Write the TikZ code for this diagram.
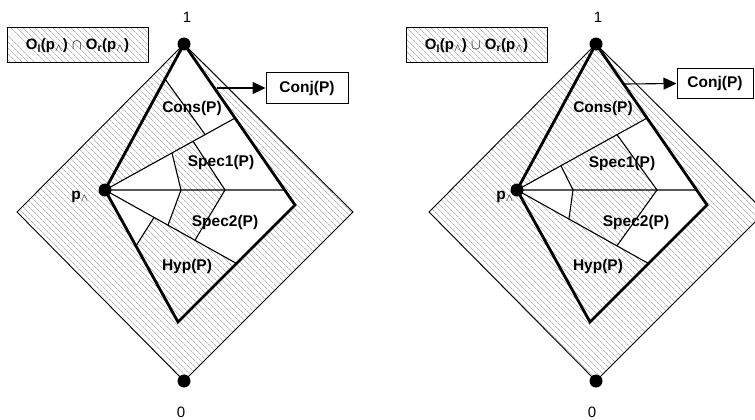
\documentclass[tikz,border=0pt]{standalone}
\usepackage{fontspec}
\setmainfont{Liberation Sans}
\usetikzlibrary{arrows.meta, positioning, calc, patterns.meta}

\begin{document}
\begin{tikzpicture}[x=1pt, y=-1pt,
  hatch/.style={pattern={Lines[angle=-45, distance=4pt, line width=0.5pt]}, pattern color=black!42},
  region/.style={draw, line width=0.9pt},
  bound/.style={draw, line width=2.8pt, line join=miter},
  cut/.style={line width=1.1pt},
  dot/.style={circle, fill, inner sep=0pt, minimum size=13pt},
  lbl/.style={font=\fontsize{15.5}{18}\selectfont\bfseries, inner sep=0pt},
  val/.style={font=\fontsize{15}{17}\selectfont, inner sep=0pt},
  conjbox/.style={draw, line width=1pt, minimum width=82pt, minimum height=30pt,
    font=\fontsize{15.5}{18}\selectfont\bfseries},
  legend/.style={draw, line width=1pt, hatch, minimum width=141pt, minimum height=35pt,
    font=\fontsize{15}{17}\selectfont\bfseries},
  arrow/.style={-{Triangle[length=13pt, width=12pt]}, line width=1.1pt}
]
\useasboundingbox (0,0) rectangle (755,420);

% left figure: intersection
\coordinate (top-a)  at (184,44);
\coordinate (lft-a)  at (17,212);
\coordinate (bot-a)  at (184,381);
\coordinate (rgt-a)  at (353,212);
\coordinate (pw-a)   at (105,190);
\coordinate (hyp-a)  at (178,322);
\coordinate (knee-a) at (295,205);
\coordinate (up-a)   at ($(top-a)!0.46!(knee-a)$);
\coordinate (mid-a)  at ($(top-a)!0.907!(knee-a)$);
\coordinate (low-a)  at ($(knee-a)!0.5!(hyp-a)$);
\coordinate (sa-a)   at ($(top-a)!0.24!(pw-a)$);
\coordinate (sb-a)   at ($(pw-a)!0.77!(up-a)$);
\coordinate (ca-a)   at ($(pw-a)!0.515!(up-a)$);
\coordinate (cb-a)   at ($(pw-a)!0.677!(up-a)$);
\coordinate (ma-a)   at (181,190);
\coordinate (mb-a)   at (225,190);
\coordinate (da-a)   at ($(pw-a)!0.479!(low-a)$);
\coordinate (db-a)   at ($(pw-a)!0.684!(low-a)$);
\coordinate (ea-a)   at ($(pw-a)!0.373!(low-a)$);
\coordinate (eb-a)   at ($(pw-a)!0.424!(hyp-a)$);

\fill[hatch] (top-a) -- (rgt-a) -- (bot-a) -- (lft-a) -- cycle;
\fill[white] (top-a) -- (sa-a) -- (sb-a) -- (up-a) -- cycle;
\fill[white] (pw-a) -- (ca-a) -- (ma-a) -- cycle;
\fill[white] (pw-a) -- (ma-a) -- (da-a) -- cycle;
\fill[white] (cb-a) -- (up-a) -- (mid-a) -- (mb-a) -- cycle;
\fill[white] (mb-a) -- (mid-a) -- (knee-a) -- (low-a) -- (db-a) -- cycle;
\fill[white] (pw-a) -- (ea-a) -- (eb-a) -- cycle;

\draw[cut] (pw-a) -- (up-a);
\draw[cut] (pw-a) -- (mid-a);
\draw[cut] (pw-a) -- (low-a);
\draw[cut] (sa-a) -- (sb-a);
\draw[cut] (ca-a) -- (ma-a) -- (da-a);
\draw[cut] (cb-a) -- (mb-a) -- (db-a);
\draw[cut] (ea-a) -- (eb-a);
\draw[region] (top-a) -- (rgt-a) -- (bot-a) -- (lft-a) -- cycle;
\draw[bound] (top-a) -- (pw-a) -- (hyp-a) -- (knee-a) -- cycle;

\node[dot] (dtop-a) at (top-a) {};
\node[dot] (dpw-a)  at (pw-a) {};
\node[dot] (dbot-a) at (bot-a) {};
\node[val] (one-a)  at (187,17) {1};
\node[val] (zero-a) at (181,412) {0};
\node[lbl] (plbl-a) at (80,197) {p\textsubscript{$\wedge$}};
\node[lbl] (cons-a) at (192,108) {Cons(P)};
\node[lbl] (spa-a)  at (221,162) {Spec1(P)};
\node[lbl] (spb-a)  at (225,222) {Spec2(P)};
\node[lbl] (hlbl-a) at (187,266) {Hyp(P)};

\node[legend] (leg-a) at (77.5,45.5) {O\textsubscript{l}(p\textsubscript{$\wedge$}) $\cap$ O\textsubscript{r}(p\textsubscript{$\wedge$})};
\node[conjbox] (conj-a) at (307,88) {Conj(P)};
\coordinate (js-a) at (217,88);
\draw[arrow] (js-a) -- (conj-a.west);

% right figure: union
\coordinate (top-b)  at (596,44);
\coordinate (lft-b)  at (429,212);
\coordinate (bot-b)  at (596,381);
\coordinate (rgt-b)  at (765,212);
\coordinate (pw-b)   at (517,190);
\coordinate (hyp-b)  at (590,322);
\coordinate (knee-b) at (707,205);
\coordinate (up-b)   at ($(top-b)!0.46!(knee-b)$);
\coordinate (mid-b)  at ($(top-b)!0.907!(knee-b)$);
\coordinate (low-b)  at ($(knee-b)!0.5!(hyp-b)$);
\coordinate (ca-b)   at ($(pw-b)!0.338!(up-b)$);
\coordinate (cb-b)   at ($(pw-b)!0.769!(up-b)$);
\coordinate (ma-b)   at (573,190);
\coordinate (mb-b)   at (657,190);
\coordinate (da-b)   at ($(pw-b)!0.395!(low-b)$);
\coordinate (db-b)   at ($(pw-b)!0.76!(low-b)$);

\fill[hatch] (top-b) -- (rgt-b) -- (bot-b) -- (lft-b) -- cycle;
\fill[white] (pw-b) -- (ca-b) -- (ma-b) -- cycle;
\fill[white] (pw-b) -- (ma-b) -- (da-b) -- cycle;
\fill[white] (cb-b) -- (up-b) -- (mid-b) -- (mb-b) -- cycle;
\fill[white] (mb-b) -- (mid-b) -- (knee-b) -- (low-b) -- (db-b) -- cycle;

\draw[cut] (pw-b) -- (up-b);
\draw[cut] (pw-b) -- (mid-b);
\draw[cut] (pw-b) -- (low-b);
\draw[cut] (ca-b) -- (ma-b) -- (da-b);
\draw[cut] (cb-b) -- (mb-b) -- (db-b);
\draw[region] (top-b) -- (rgt-b) -- (bot-b) -- (lft-b) -- cycle;
\draw[bound] (top-b) -- (pw-b) -- (hyp-b) -- (knee-b) -- cycle;

\node[dot] (dtop-b) at (top-b) {};
\node[dot] (dpw-b)  at (pw-b) {};
\node[dot] (dbot-b) at (bot-b) {};
\node[val] (one-b)  at (598,17) {1};
\node[val] (zero-b) at (592,412) {0};
\node[lbl] (plbl-b) at (505,197) {p\textsubscript{$\wedge$}};
\node[lbl] (cons-b) at (603,108) {Cons(P)};
\node[lbl] (spa-b)  at (622,163) {Spec1(P)};
\node[lbl] (spb-b)  at (636,222) {Spec2(P)};
\node[lbl] (hlbl-b) at (598,266) {Hyp(P)};

\node[legend] (leg-b) at (476.5,45.5) {O\textsubscript{l}(p\textsubscript{$\wedge$}) $\cup$ O\textsubscript{r}(p\textsubscript{$\wedge$})};
\node[conjbox, minimum width=76pt, minimum height=29pt] (conj-b) at (715,83.5) {Conj(P)};
\coordinate (js-b) at (625,84);
\draw[arrow] (js-b) -- (conj-b.west);
\end{tikzpicture}
\end{document}
